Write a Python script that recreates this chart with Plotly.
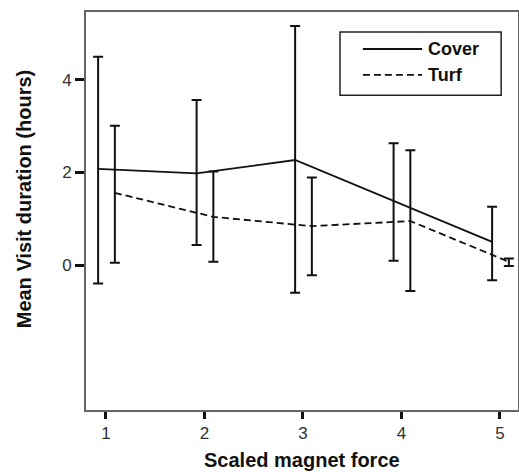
import plotly.graph_objects as go

# ---- data ----
force = [1, 2, 3, 4, 5]
tick_labels = ["1", "2", "3", "4", "5"]
y_ticks = [0, 2, 4]

cover_mean = [2.08, 1.98, 2.27, 1.38, 0.50]
cover_upper = [4.50, 3.57, 5.17, 2.63, 1.26]
cover_lower = [-0.40, 0.43, -0.60, 0.09, -0.33]

turf_mean = [1.56, 1.04, 0.84, 0.95, 0.07]
turf_upper = [3.01, 2.02, 1.89, 2.48, 0.14]
turf_lower = [0.05, 0.07, -0.22, -0.56, -0.02]

# ---- styling ----
FONT = "Liberation Sans, Arial, Helvetica, sans-serif"
cover_off = -0.08
turf_off = 0.09


def err(mean, up, lo):
    return ([u - m for u, m in zip(up, mean)], [m - l for m, l in zip(mean, lo)])


fig = go.Figure()

cu, cl = err(cover_mean, cover_upper, cover_lower)
fig.add_trace(go.Scatter(
    x=[f + cover_off for f in force], y=cover_mean, mode="lines", name="Cover",
    line=dict(color="#111", width=1.8),
    error_y=dict(type="data", symmetric=False, array=cu, arrayminus=cl,
                 color="#111", thickness=2, width=5),
    showlegend=False,
))

tu, tl = err(turf_mean, turf_upper, turf_lower)
fig.add_trace(go.Scatter(
    x=[f + turf_off for f in force], y=turf_mean, mode="lines", name="Turf",
    line=dict(color="#111", width=1.8, dash="7px,4px"),
    error_y=dict(type="data", symmetric=False, array=tu, arrayminus=tl,
                 color="#111", thickness=2, width=5),
    showlegend=False,
))

# manual legend box (paper coordinates)
fig.add_shape(type="rect", xref="paper", yref="paper", x0=0.588, x1=0.961,
              y0=0.791, y1=0.950, line=dict(color="#222", width=1.5),
              fillcolor="white")
fig.add_shape(type="line", xref="paper", yref="paper", x0=0.641, x1=0.778,
              y0=0.907, y1=0.907, line=dict(color="#111", width=1.8))
fig.add_shape(type="line", xref="paper", yref="paper", x0=0.641, x1=0.778,
              y0=0.842, y1=0.842, line=dict(color="#111", width=1.8, dash="7px,4px"))
fig.add_annotation(xref="paper", yref="paper", x=0.787, y=0.907, text="<b>Cover</b>",
                   showarrow=False, xanchor="left", yanchor="middle",
                   font=dict(family=FONT, size=18, color="#111"))
fig.add_annotation(xref="paper", yref="paper", x=0.787, y=0.842, text="<b>Turf</b>",
                   showarrow=False, xanchor="left", yanchor="middle",
                   font=dict(family=FONT, size=18, color="#111"))

# axis titles as annotations
fig.add_annotation(xref="paper", yref="paper", x=0.5, y=-0.125,
                   text="<b>Scaled magnet force</b>", showarrow=False,
                   xanchor="center", yanchor="middle",
                   font=dict(family=FONT, size=20, color="#111"))
fig.add_annotation(xref="paper", yref="paper", x=-0.143, y=0.530,
                   text="<b>Mean Visit duration (hours)</b>", showarrow=False,
                   textangle=-90, xanchor="center", yanchor="middle",
                   font=dict(family=FONT, size=20, color="#111"))

fig.update_layout(
    width=519, height=472,
    margin=dict(l=86, r=1, t=12, b=62, autoexpand=False),
    paper_bgcolor="white", plot_bgcolor="white",
    font=dict(family=FONT, color="#222"),
    xaxis=dict(
        range=[0.797, 5.183], tickmode="array", tickvals=force, ticktext=tick_labels,
        showgrid=False, zeroline=False, showline=True, mirror=True, automargin=False,
        linecolor="#666", linewidth=2, ticks="outside", ticklen=7, tickwidth=3,
        tickcolor="#111", tickfont=dict(size=17, color="#333"),
    ),
    yaxis=dict(
        range=[-3.135, 5.47], tickmode="array", tickvals=y_ticks,
        ticktext=[str(v) for v in y_ticks], automargin=False,
        showgrid=False, zeroline=False, showline=True, mirror=True,
        linecolor="#666", linewidth=2, ticks="outside", ticklen=9, tickwidth=3,
        tickcolor="#111", tickfont=dict(size=17, color="#333"),
    ),
)

fig.write_html(
    "out.html",
    config={"displayModeBar": False},
    post_script="document.body.style.margin='0';document.body.style.overflow='hidden';",
)
